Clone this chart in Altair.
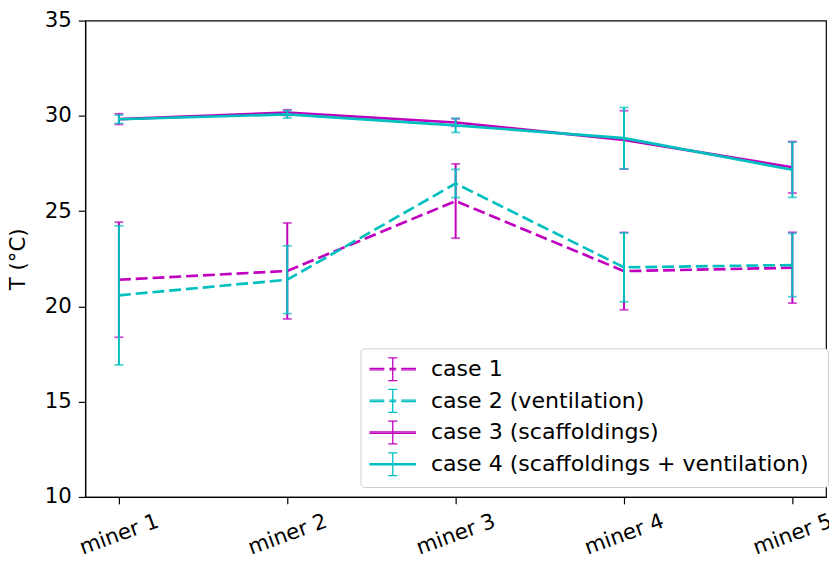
import altair as alt
import pandas as pd

miners = ["miner 1", "miner 2", "miner 3", "miner 4", "miner 5"]
series_names = ["case 1", "case 2 (ventilation)", "case 3 (scaffoldings)",
                "case 4 (scaffoldings + ventilation)"]

case1_mean = [21.40, 21.86, 25.53, 21.85, 22.03]
case1_err = [3.02, 2.52, 1.95, 2.03, 1.86]
case2_mean = [20.58, 21.40, 26.45, 22.05, 22.17]
case2_err = [3.65, 1.78, 0.74, 1.81, 1.66]
case3_mean = [29.83, 30.17, 29.65, 28.74, 27.30]
case3_err = [0.28, 0.15, 0.20, 1.53, 1.35]
case4_mean = [29.82, 30.08, 29.50, 28.83, 27.17]
case4_err = [0.22, 0.20, 0.37, 1.61, 1.45]

colors = ["#bf00bf", "#00bfbf", "#bf00bf", "#00bfbf"]
dashed = [True, True, False, False]

# legend symbols (line + error bar), in units of half the symbol size
dash_path = ("M-1,-0.06H0.25M-1,0.06H0.25M0.67,-0.06H1.25M0.67,0.06H1.25"
             "M1.67,-0.06H2.92M1.67,0.06H2.92"
             "M0.96,-0.96V0.96M0.58,-0.96H1.34M0.58,0.96H1.34")
solid_path = ("M-1,-0.06H2.92M-1,0.06H2.92"
              "M0.96,-0.96V0.96M0.58,-0.96H1.34M0.58,0.96H1.34")
paths = [dash_path, dash_path, solid_path, solid_path]

rows = []
for name, means, errs in zip(series_names,
                             [case1_mean, case2_mean, case3_mean, case4_mean],
                             [case1_err, case2_err, case3_err, case4_err]):
    for m, v, e in zip(miners, means, errs):
        rows.append({"miner": m, "series": name, "mean": v, "lo": v - e, "hi": v + e})
df = pd.DataFrame(rows)

FONT = "DejaVu Sans"
FS = 21.5

x_scale = alt.Scale(type="point", padding=0.2, domain=miners)
y_scale = alt.Scale(domain=[10, 35], nice=False, zero=False)
x_enc = alt.X("miner:N", scale=x_scale,
              axis=alt.Axis(title=None, labelAngle=-20, labelAlign="center",
                            labelBaseline="middle", labelPadding=31))
y_enc = alt.Y("mean:Q", scale=y_scale,
              axis=alt.Axis(title="T (°C)", values=[10, 15, 20, 25, 30, 35],
                            labelPadding=7, titlePadding=15))

base = alt.Chart(df)
layers = []
for name, col, d in zip(series_names, colors, dashed):
    sub = base.transform_filter(alt.datum.series == name)
    line_kwargs = dict(stroke=col, color=col, strokeWidth=2.7)
    if d:
        line_kwargs["strokeDash"] = [12, 5]
    layers.append(sub.mark_line(**line_kwargs).encode(x=x_enc, y=y_enc))
    layers.append(sub.mark_rule(stroke=col, color=col, strokeWidth=2).encode(
        x=alt.X("miner:N", scale=x_scale), y=alt.Y("lo:Q", scale=y_scale), y2="hi:Q"))
    for fld in ["lo", "hi"]:
        layers.append(sub.mark_tick(color=col, fill=col, size=9, thickness=1.8,
                                    orient="horizontal").encode(
            x=alt.X("miner:N", scale=x_scale), y=alt.Y(f"{fld}:Q", scale=y_scale)))

leg = alt.Legend(title=None, orient="none", legendX=278, legendY=331,
                 fillColor="white", strokeColor="#cccccc", cornerRadius=4,
                 padding=8, labelFontSize=22.3, labelFont=FONT, labelColor="black",
                 labelLimit=600, labelExpr="datum.label + '\u2002\u200b'",
                 symbolSize=576, symbolStrokeWidth=1.3,
                 symbolOpacity=1, labelOffset=37, rowPadding=2)
legend_layer = base.mark_point(opacity=0, filled=False).encode(
    x=alt.X("miner:N", scale=x_scale), y=alt.Y("mean:Q", scale=y_scale),
    color=alt.Color("series:N", scale=alt.Scale(domain=series_names, range=colors),
                    legend=leg),
    shape=alt.Shape("series:N", scale=alt.Scale(domain=series_names, range=paths),
                    legend=leg),
)
layers.append(legend_layer)

chart = alt.layer(*layers).properties(
    width=748, height=481,
    autosize=alt.AutoSizeParams(type="none"),
    padding={"left": 78, "top": 10, "right": 3, "bottom": 64},
).configure_view(
    stroke="black", strokeWidth=1.2
).configure_axis(
    grid=False, tickSize=7, labelFontSize=FS, titleFontSize=FS,
    titleFontWeight="normal", labelFont=FONT, titleFont=FONT,
    labelColor="black", titleColor="black", domainColor="black",
    tickColor="black", domainWidth=1.2, tickWidth=1.2,
)

chart.save("out.html", embed_options={"renderer": "svg", "actions": False})
